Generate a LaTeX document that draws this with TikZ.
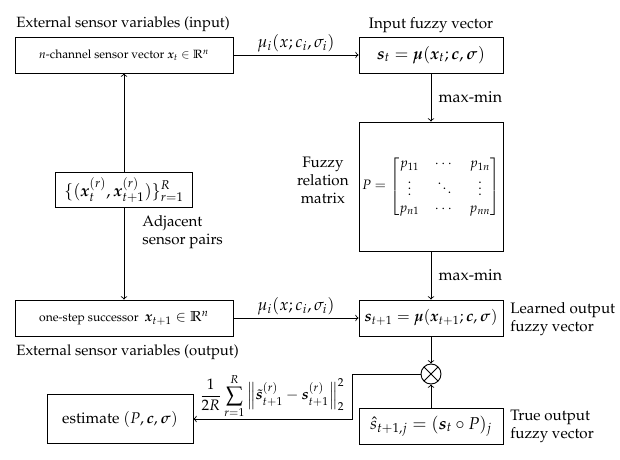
\documentclass[tikz,border=0pt]{standalone}
\usepackage[T1]{fontenc}
\usepackage{amsmath}
\usepackage{mathpazo}
\usepackage{bm}
\usepackage{tikz}

\begin{document}
\begin{tikzpicture}[x=0.66pt,y=0.66pt,yscale=-1,xscale=1,
	box/.style={draw,line width=0.6pt,inner sep=0pt,align=center},
	boxsize/.style 2 args={minimum width=#1*0.66pt,minimum height=#2*0.66pt},
	widebox/.style={box,boxsize={218}{36}},
	vecbox/.style={box,boxsize={144}{36}},
	lbl/.style={inner sep=0.75pt},
	link/.style={draw,line width=0.6pt,->}]
	\useasboundingbox (0,0) rectangle (620,459);
	
	%Shape: Rectangle [sensor boxes]
	\draw (124,55) node [widebox] (sensin) {\fontsize{7.9}{9}\selectfont $n$-channel sensor vector $\bm{x}_t \in \mathbb{R}^n$};
	\draw (124,318) node [widebox] (sensout) {\fontsize{8}{9}\selectfont one-step successor\ \ \fontsize{9.5}{11}\selectfont$\bm{x}_{t+1} \in \mathbb{R}^n$};
	\draw (124,190) node [box,boxsize={137}{35}] (pairs) {\fontsize{11}{13}\selectfont $\{(\bm{x}_t^{(r)},\bm{x}_{t+1}^{(r)})\}_{r=1}^{R}$};
	\draw (120,419) node [box,boxsize={146}{49}] (est) {\fontsize{10.2}{12}\selectfont estimate $(P,\bm{c},\bm{\sigma})$};
	
	%Shape: Rectangle [fuzzy boxes]
	\draw (431,55) node [vecbox] (vin) {\fontsize{11}{13}\selectfont $\bm{s}_t = \bm{\mu}(\bm{x}_t;\bm{c},\bm{\sigma})$};
	\draw (431,186.5) node [box,boxsize={144}{129}] (rel) {\small $P=\begin{bmatrix} p_{11} & \cdots & p_{1n}\\ \vdots & \ddots & \vdots\\ p_{n1} & \cdots & p_{nn}\end{bmatrix}$};
	\draw (431,318) node [vecbox] (vlearn) {\fontsize{10.3}{12}\selectfont $\bm{s}_{t+1} = \bm{\mu}(\bm{x}_{t+1};\bm{c},\bm{\sigma})$};
	\draw (431,426) node [vecbox] (vtrue) {\fontsize{11.3}{13}\selectfont $\hat{s}_{t+1,j} = (\bm{s}_t \circ P)_j$};
	
	%Shape: Circle [comparison]
	\draw (431,374) node [circle,draw,line width=0.6pt,minimum size=13.2pt,inner sep=0pt,
		path picture={\draw [line width=0.6pt] ([shift={(45:6.6pt)}]path picture bounding box.center) -- ([shift={(225:6.6pt)}]path picture bounding box.center);
			\draw [line width=0.6pt] ([shift={(135:6.6pt)}]path picture bounding box.center) -- ([shift={(315:6.6pt)}]path picture bounding box.center);}] (mul) {};
	\coordinate (bend) at (352,419);
	
	%Straight Lines [connectors]
	\draw [link] (sensin) -- (vin) node [midway,above=1pt,lbl] {\fontsize{11}{13}\selectfont $\mu_i(x;c_i,\sigma_i)$};
	\draw [link] (sensout) -- (vlearn) node [midway,above=1pt,lbl] {\fontsize{11}{13}\selectfont $\mu_i(x;c_i,\sigma_i)$};
	\draw [link] (vin) -- (rel) node [midway,right=4pt,lbl] {\fontsize{10.5}{12}\selectfont max-min};
	\draw [link] (rel) -- (vlearn) node [midway,right=4pt,lbl] {\fontsize{10.5}{12}\selectfont max-min};
	\draw [link] (pairs.north) -- (pairs.north |- sensin.south);
	\draw [link] (pairs.south) -- (pairs.south |- sensout.north);
	\draw [link] (vlearn) -- (mul);
	\draw [link] (vtrue) -- (mul);
	\draw [link] (mul.west) -| (bend) -- (est.east);
	
	% Text Node
	\draw (15,27) node [anchor=base west][lbl] (inlbl) {\fontsize{9.8}{11}\selectfont External sensor variables (input)};
	% Text Node
	\draw (15,352) node [anchor=west][lbl] (outlbl) {\fontsize{9.8}{11}\selectfont External sensor variables (output)};
	% Text Node
	\draw (vin.north) node [anchor=south][inner sep=2pt] (vinlbl) {Input fuzzy vector};
	% Text Node
	\draw (350,180) node [anchor=east][lbl,align=center] (rellbl) {Fuzzy\\relation\\matrix};
	% Text Node
	\draw (141,232) node [anchor=west][lbl,align=left] (pairslbl) {Adjacent\\sensor pairs};
	% Text Node
	\draw (509,319) node [anchor=west][lbl,align=left] (learnlbl) {Learned output\\fuzzy vector};
	% Text Node
	\draw (509,426) node [anchor=west][lbl,align=left] (truelbl) {True output\\fuzzy vector};
	% Text Node
	\draw (272,396) node [lbl] (losslbl) {$\displaystyle\frac{1}{2R}\sum_{r=1}^{R}\left\|\tilde{\bm{s}}_{t+1}^{(r)}-\bm{s}_{t+1}^{(r)}\right\|_2^2$};
	
\end{tikzpicture}
\end{document}
